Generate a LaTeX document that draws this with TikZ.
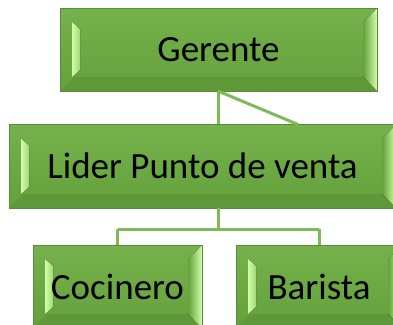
\documentclass[tikz,border=0pt]{standalone}
\usepackage{fontspec}
\setmainfont{Carlito}
\usetikzlibrary{calc}
\definecolor{facetop}{HTML}{75B24C}
\definecolor{facebot}{HTML}{64A03B}
\definecolor{edge}{HTML}{5A8A3C}
\definecolor{bevdark}{HTML}{5E9838}
\definecolor{hilite}{HTML}{D2FFA8}
\definecolor{hilitetwo}{HTML}{A0D676}
\definecolor{conn}{HTML}{7EBA57}
\tikzset{
  txt/.style={inner sep=0pt, font=\fontsize{37}{44}\selectfont, text=black},
  connector/.style={draw=conn, line width=3pt},
}
\newcommand\bevbox[6]{%
  \path[top color=facetop, bottom color=facebot] (#2,#3) rectangle (#4,#5);
  \fill[bevdark] (#2,#5) -- (#2+14,#5-14) -- (#4-14,#5-14) -- (#4,#5) -- cycle;
  \fill[left color=facebot, right color=hilite] (#4,#3) -- (#4-14,#3+14) -- (#4-14,#5-14) -- (#4,#5) -- cycle;
  \fill[left color=hilite, right color=hilitetwo] (#2+12,#3+14) -- (#2+20,#3+21) -- (#2+20,#5-21) -- (#2+12,#5-14) -- cycle;
  \draw[edge!80!white, line width=0.4pt, opacity=0.6] (#2,#3) -- (#2+14,#3+14) -- (#4-14,#3+14) -- (#4,#3);
  \draw[edge, line width=1pt] (#2,#3) rectangle (#4,#5);
  \node[txt, minimum width={#4-#2}, minimum height={#5-#3}] (#1) at ({(#2+#4)/2},{(#3+#5)/2}) {#6};
}
\begin{document}
\begin{tikzpicture}[x=1pt, y=-1pt]
\useasboundingbox (0,0) rectangle (393,324);
\fill[white] (0,0) rectangle (393,324);
\clip (0,0) rectangle (393,324);
\bevbox{g}{60}{8}{377}{91}{Gerente}
\bevbox{l}{9}{124.5}{396}{208}{Lider Punto de venta}
\bevbox{c}{33}{245}{202}{328}{Cocinero}
\bevbox{b}{236}{245}{402}{328}{Barista}
\coordinate (gs) at (218,91);
\coordinate (d) at (298,124.5);
\coordinate (j) at (218,229);
\draw[connector] (gs) -- (gs |- l.north);
\draw[connector] (gs) -- (d);
\draw[connector] (gs |- l.south) -- (j);
\draw[connector] (c.north |- j) -- (b.north |- j);
\draw[connector] (c.north |- j) -- (c.north);
\draw[connector] (b.north |- j) -- (b.north);
\end{tikzpicture}
\end{document}
